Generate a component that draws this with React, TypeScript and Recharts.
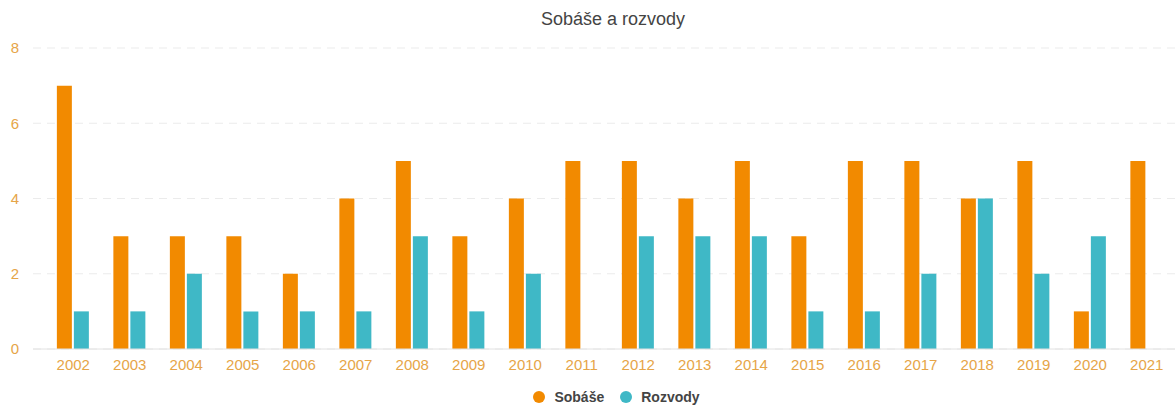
import { Bar, BarChart, CartesianGrid, Legend, XAxis, YAxis } from "recharts";

const years = [
  "2002", "2003", "2004", "2005", "2006", "2007", "2008", "2009", "2010", "2011",
  "2012", "2013", "2014", "2015", "2016", "2017", "2018", "2019", "2020", "2021",
];
const sobase = [7, 3, 3, 3, 2, 4, 5, 3, 4, 5, 5, 4, 5, 3, 5, 5, 4, 5, 1, 5];
const rozvody = [1, 1, 2, 1, 1, 1, 3, 1, 2, 0, 3, 3, 3, 1, 1, 2, 4, 2, 3, 0];
const yTicks = [0, 2, 4, 6, 8];

const data = years.map((y, i) => ({ year: y, Sobáše: sobase[i], Rozvody: rozvody[i] }));

const ORANGE = "#f28a00";
const TEAL = "#3fb8c6";
const TICK = "#e6a548";
const FONT = "Liberation Sans, Arial, sans-serif";

function LegendContent() {
  const items = [
    { name: "Sobáše", color: ORANGE },
    { name: "Rozvody", color: TEAL },
  ];
  return (
    <div
      style={{
        display: "flex",
        justifyContent: "center",
        gap: 16,
        fontFamily: FONT,
        marginLeft: 58,
        lineHeight: "16px",
      }}
    >
      {items.map((it) => (
        <div key={it.name} style={{ display: "flex", alignItems: "center", gap: 9 }}>
          <span
            style={{ width: 12, height: 12, borderRadius: "50%", background: it.color, display: "inline-block" }}
          />
          <span style={{ fontSize: 14, fontWeight: 700, color: "#444" }}>{it.name}</span>
        </div>
      ))}
    </div>
  );
}

export default function App() {
  return (
    <div style={{ position: "absolute", left: 0, top: 0, width: 1176, height: 405, background: "#fff" }}>
      <div
        style={{
          position: "absolute",
          top: 9,
          left: 0,
          width: 1226,
          textAlign: "center",
          fontFamily: FONT,
          fontSize: 18,
          color: "#444",
        }}
      >
        Sobáše a rozvody
      </div>
      <BarChart
        width={1176}
        height={405}
        data={data}
        margin={{ top: 48, right: 1, left: 0, bottom: 0 }}
        barCategoryGap="21%"
        barGap={2}
      >
        <CartesianGrid vertical={false} stroke="#ebebeb" strokeDasharray="8 6" />
        <XAxis
          dataKey="year"
          padding={{ left: 12, right: 0 }}
          tickLine={false}
          tickSize={0}
          tickMargin={10}
          height={40}
          axisLine={{ stroke: "#e2e2e2" }}
          tick={{ fill: TICK, fontSize: 15, fontFamily: FONT }}
          interval={0}
        />
        <YAxis
          width={33}
          domain={[0, 8]}
          ticks={yTicks}
          axisLine={false}
          tickLine={false}
          tickSize={0}
          tickMargin={14}
          tick={{ fill: TICK, fontSize: 15, fontFamily: FONT }}
        />
        <Legend verticalAlign="bottom" height={16} content={<LegendContent />} />
        <Bar dataKey="Sobáše" fill={ORANGE} isAnimationActive={false} />
        <Bar dataKey="Rozvody" fill={TEAL} isAnimationActive={false} />
      </BarChart>
    </div>
  );
}
